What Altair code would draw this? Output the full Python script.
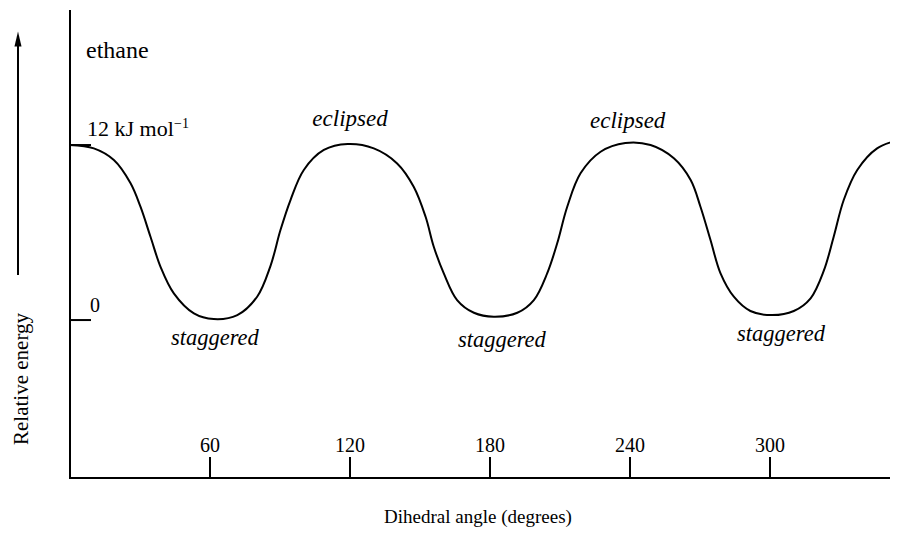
import altair as alt
import pandas as pd

# Potential-energy curve of ethane
ANGLE = [0, 10.2, 18.8, 25.9, 30.2, 34.5, 38.8, 44.5, 53.1, 61.6, 71.7, 80.2, 85.9, 90.2,
         94.5, 100.2, 108.8, 119.0, 130.2, 140.2, 147.3, 152.4, 155.9, 160.2, 165.9,
         173.1, 181.6, 191.7, 198.8, 204.5, 208.8, 213.1, 218.8, 227.4, 238.0, 248.8,
         258.8, 266.0, 270.2, 274.5, 278.8, 284.5, 291.6, 301.0, 310.2, 317.4, 323.1,
         327.3, 331.6, 337.4, 345.9, 355.1]
ENERGY = [12.0, 11.77, 10.97, 9.39, 7.77, 5.71, 3.65, 1.83, 0.46, 0.07, 0.34, 1.60, 3.70, 6.17,
          8.23, 10.29, 11.66, 12.07, 11.77, 10.74, 9.14, 7.08, 5.03, 3.20, 1.37,
          0.50, 0.23, 0.50, 1.37, 3.20, 5.26, 7.77, 10.06, 11.54, 12.14, 12.0,
          11.09, 9.60, 7.77, 5.49, 3.20, 1.60, 0.62, 0.34, 0.62, 1.49, 3.40,
          5.71, 8.23, 10.29, 11.77, 12.34]

TICK_ANGLES = [60, 120, 180, 240, 300]
TICK_LABELS = ["60", "120", "180", "240", "300"]
YTICK_ENERGY = [12, 0]

ECL_ANGLE = [120, 239]
ECL_ENERGY = [13.30, 13.17]
STAG_ANGLE = [62.1, 185.1, 304.7]
STAG_ENERGY = [-1.71, -1.85, -1.44]

FONT = "Liberation Serif"
W, H = 820, 467
X_DOMAIN = [0, 351.43]
Y_DOMAIN = [-10.83, 21.19]

xs = alt.Scale(domain=X_DOMAIN, nice=False, zero=False)
ys = alt.Scale(domain=Y_DOMAIN, nice=False, zero=False)

curve_df = pd.DataFrame({"angle": ANGLE, "energy": ENERGY})
tick_df = pd.DataFrame({"angle": TICK_ANGLES, "label": TICK_LABELS})
ytick_df = pd.DataFrame({"energy": YTICK_ENERGY})
ecl_df = pd.DataFrame({"angle": ECL_ANGLE, "energy": ECL_ENERGY, "name": ["eclipsed"] * 2})
stag_df = pd.DataFrame({"angle": STAG_ANGLE, "energy": STAG_ENERGY, "name": ["staggered"] * 3})
one = pd.DataFrame({"k": [0]})

curve = alt.Chart(curve_df).mark_line(
    color="black", strokeWidth=2, interpolate="catmull-rom", clip=True
).encode(
    x=alt.X("angle:Q", scale=xs, axis=None),
    y=alt.Y("energy:Q", scale=ys, axis=None),
)

yaxis_line = alt.Chart(one).mark_rule(color="black", strokeWidth=2, strokeCap="square").encode(
    x=alt.value(0), y=alt.value(0), y2=alt.value(H)
)
xaxis_line = alt.Chart(one).mark_rule(color="black", strokeWidth=2, strokeCap="square").encode(
    x=alt.value(0), x2=alt.value(W), y=alt.value(H)
)

xticks = alt.Chart(tick_df).mark_rule(color="black", strokeWidth=2).encode(
    x=alt.X("angle:Q", scale=xs, axis=None),
    y=alt.value(H - 21), y2=alt.value(H),
)
xlabels = alt.Chart(tick_df).mark_text(
    font=FONT, fontSize=20, baseline="alphabetic", align="center", color="black"
).encode(
    x=alt.X("angle:Q", scale=xs, axis=None),
    y=alt.value(441),
    text="label:N",
)

yticks = alt.Chart(ytick_df).mark_rule(color="black", strokeWidth=2).encode(
    y=alt.Y("energy:Q", scale=ys, axis=None),
    x=alt.value(0), x2=alt.value(21),
)
ylab12 = alt.Chart(one).mark_text(
    text="12 kJ mol", font=FONT, fontSize=22, baseline="alphabetic", align="left", color="black"
).encode(x=alt.value(17), y=alt.value(125))
sup = alt.Chart(one).mark_text(
    text="\u22121", font=FONT, fontSize=14, baseline="alphabetic", align="left", color="black"
).encode(x=alt.value(104), y=alt.value(117))
ylab0 = alt.Chart(one).mark_text(
    text="0", font=FONT, fontSize=20, baseline="alphabetic", align="left", color="black"
).encode(x=alt.value(20), y=alt.value(301))

ecl = alt.Chart(ecl_df).mark_text(
    font=FONT, fontSize=23, fontStyle="italic", baseline="alphabetic", align="center", color="black"
).encode(
    x=alt.X("angle:Q", scale=xs, axis=None),
    y=alt.Y("energy:Q", scale=ys, axis=None),
    text="name:N",
)
stag = alt.Chart(stag_df).mark_text(
    font=FONT, fontSize=22.5, fontStyle="italic", baseline="alphabetic", align="center", color="black"
).encode(
    x=alt.X("angle:Q", scale=xs, axis=None),
    y=alt.Y("energy:Q", scale=ys, axis=None),
    text="name:N",
)

ethane = alt.Chart(one).mark_text(
    text="ethane", font=FONT, fontSize=24, baseline="alphabetic", align="left", color="black"
).encode(x=alt.value(16), y=alt.value(46.5))

xtitle = alt.Chart(one).mark_text(
    text="Dihedral angle (degrees)", font=FONT, fontSize=19, baseline="alphabetic",
    align="center", color="black"
).encode(x=alt.value(408), y=alt.value(512))

ytitle = alt.Chart(one).mark_text(
    text="Relative energy", font=FONT, fontSize=21, baseline="alphabetic",
    align="center", angle=270, color="black"
).encode(x=alt.value(-42), y=alt.value(368))

arrow_line = alt.Chart(one).mark_rule(color="black", strokeWidth=2).encode(
    x=alt.value(-52), y=alt.value(30), y2=alt.value(264)
)
arrow_head = alt.Chart(one).mark_point(
    shape="M0,-1L0.47,1L-0.47,1Z", size=225, filled=True, color="black", opacity=1
).encode(x=alt.value(-52), y=alt.value(28))

chart = alt.layer(
    curve, yaxis_line, xaxis_line, xticks, xlabels, yticks, ylab12, sup, ylab0, ecl, stag,
    ethane, xtitle, ytitle, arrow_line, arrow_head
).properties(
    width=W, height=H,
    padding={"left": 62, "top": 3, "right": 0, "bottom": 49},
    autosize=alt.AutoSizeParams(type="none"),
    background="white",
).configure_view(stroke=None)

chart.save("out.html", embed_options={"renderer": "svg", "actions": False})
